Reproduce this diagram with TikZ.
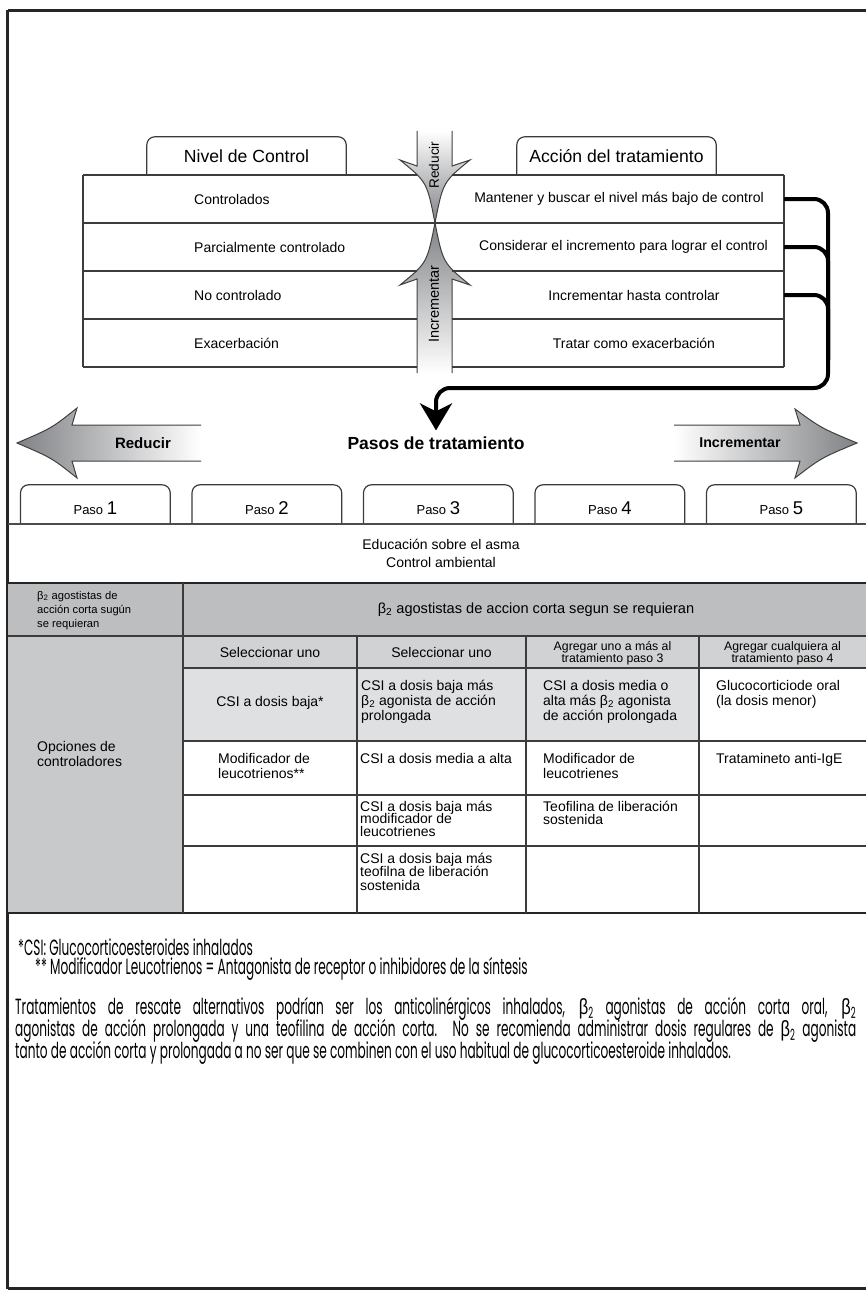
\documentclass[tikz,border=0pt]{standalone}
\usepackage{fontspec}
\setmainfont{Liberation Sans}
\newfontfamily\condfont[FakeStretch=0.55]{Poppins}
\newfontfamily\grkfont[FakeStretch=0.75]{Liberation Sans}
\usepackage{tikz}
\usetikzlibrary{arrows.meta}

\definecolor{linegray}{RGB}{60,60,60}
\definecolor{hdrgray}{RGB}{188,190,192}
\definecolor{optgray}{RGB}{200,201,203}
\definecolor{selgray}{RGB}{209,210,212}
\definecolor{csigray}{RGB}{223,224,225}
\definecolor{arrgray}{RGB}{128,130,133}

\newcommand\fsz[1]{\fontsize{#1}{#1}\selectfont}
\newcommand\bdos{β\textsubscript{2}}
\newcommand\bdosc{{\grkfont β}\textsubscript{2}}
% stacked lines with a fixed baseline distance, baseline = first line
\newcommand\cellrows[2][15pt]{\vtop{\baselineskip=#1\lineskiplimit=-100pt\relax
  \halign{##\hfil\cr#2\crcr}}}
\newcommand\cellrowsc[2][15pt]{\vtop{\baselineskip=#1\lineskiplimit=-100pt\relax
  \halign{\hfil##\hfil\cr#2\crcr}}}

\begin{document}
\begin{tikzpicture}[
    x=1pt,y=-1pt,
    font=\fsz{14},
    txt/.style={inner sep=0pt},
    tline/.style={draw=linegray,line width=1.2pt},
    tab/.style={draw=linegray,line width=1.2pt,rounded corners=8pt},
    arrline/.style={draw=black!75,line width=1pt},
    conn/.style={draw=black,line width=4pt,rounded corners=14pt},
    boldtxt/.style={inner sep=0pt,font=\bfseries\fsz{15}},
    note/.style={inner sep=0pt,anchor=base west,font=\condfont\fsz{22}}
]
\useasboundingbox (0,0) rectangle (866,1292);

% Outer frame (open on the right).
\draw[draw=black!85,line width=3pt] (866,10.5) -- (7.5,10.5);
\draw[draw=black!85,line width=3pt] (7.5,1288.5) -- (866,1288.5);
\draw[draw=black!85,line width=2.2pt] (7.5,10.5) -- (7.5,1288.5);

% Column heads of the control table.
\node[txt,font=\fsz{17.6},minimum width=199pt,minimum height=38pt] (nivel) at (246.5,156) {Nivel de Control};
\draw[tab] (nivel.south west) |- (nivel.north) -| (nivel.south east);
\node[txt,font=\fsz{17.6},minimum width=199pt,minimum height=38pt] (accion) at (616.5,156) {Acción del tratamiento};
\draw[tab] (accion.south west) |- (accion.north) -| (accion.south east);

% Reducir / Incrementar arrows between the two halves.
\shade[top color=white,bottom color=arrgray] (417,131) -- (417,166) -- (400,160)
    .. controls (427,182) .. (435,223) .. controls (443,182) .. (470,160)
    -- (452,166) -- (452,131) -- cycle;
\draw[arrline] (417,131) -- (417,166) -- (400,160)
    .. controls (427,182) .. (435,223) .. controls (443,182) .. (470,160)
    -- (452,166) -- (452,131);
\shade[top color=arrgray,bottom color=white] (417,373) -- (417,279) -- (400,285)
    .. controls (427,263) .. (435,223) .. controls (443,263) .. (470,285)
    -- (452,279) -- (452,373) -- cycle;
\draw[arrline] (417,373) -- (417,279) -- (400,285)
    .. controls (427,263) .. (435,223) .. controls (443,263) .. (470,285)
    -- (452,279) -- (452,373);
\node[txt,rotate=90,font=\fsz{13.6}] (redv) at (434,165) {Reducir};
\node[txt,rotate=90,font=\fsz{14.5}] (incv) at (434,304) {Incrementar};

% Table rules.
\foreach \y in {175,271,319,367}{
    \draw[tline] (83,\y) -- (417,\y) (452,\y) -- (784,\y);
}
\draw[tline] (83,223) -- (784,223);
\draw[tline] (83,175) -- (83,367) (784,175) -- (784,367);

% Levels of control and actions.
\node[txt,anchor=west] (l1) at (194,199) {Controlados};
\node[txt,anchor=west] (l2) at (194,247) {Parcialmente controlado};
\node[txt,anchor=west] (l3) at (194,295) {No controlado};
\node[txt,anchor=west] (l4) at (194,343) {Exacerbación};
\node[txt] (a1) at (619,199) {Mantener y buscar el nivel más bajo de control};
\node[txt] (a2) at (623.5,247) {Considerar el incremento para lograr el control};
\node[txt] (a3) at (634,295) {Incrementar hasta controlar};
\node[txt] (a4) at (634,343) {Tratar como exacerbación};

% Steps heading and side arrows.
\node[txt,font=\bfseries\fsz{17.5}] (pasos) at (436,443) {Pasos de tratamiento};
\shade[left color=arrgray,right color=white] (201,425) -- (72,425) -- (77,408)
    .. controls (52,428) .. (17,443) .. controls (52,458) .. (77,478)
    -- (72,461) -- (201,461) -- cycle;
\draw[arrline] (201,425) -- (72,425) -- (77,408)
    .. controls (52,428) .. (17,443) .. controls (52,458) .. (77,478)
    -- (72,461) -- (201,461);
\node[boldtxt] (redh) at (143,443) {Reducir};
\shade[left color=white,right color=arrgray] (674,425) -- (800,425) -- (795,409)
    .. controls (821,428) .. (857,443) .. controls (821,458) .. (795,478)
    -- (800,461) -- (674,461) -- cycle;
\draw[arrline] (674,425) -- (800,425) -- (795,409)
    .. controls (821,428) .. (857,443) .. controls (821,458) .. (795,478)
    -- (800,461) -- (674,461);
\node[boldtxt,font=\bfseries\fsz{14.2}] (inch) at (740,443) {Incrementar};

% Connectors from the actions down to the steps.
\coordinate (redge) at (784,0);
\coordinate (turn) at (828,388);
\coordinate (merge) at (828,360);
\draw[conn,-{Stealth[length=27pt,width=32pt,inset=8pt]}]
    (a1 -| redge) -| (turn) -| ([yshift=6pt]pasos.north);
\draw[conn] (a2 -| redge) -| (merge);
\draw[conn] (a3 -| redge) -| (merge);

% Step tabs.
\foreach \i in {1,...,5}{
    \pgfmathsetmacro\cx{95.35+171.5*(\i-1)}
    \node[txt,minimum width=149.3pt,minimum height=39pt] (paso\i) at (\cx,504.5) {};
    \draw[tab] (paso\i.south west) |- (paso\i.north) -| (paso\i.south east);
    \node[txt,anchor=base] (pasot\i) at (\cx,514) {\fsz{13}Paso \fsz{18.5}\i};
}
\draw[draw=black!70,line width=1.2pt] (7.5,524) -- (866,524);
\node[txt,anchor=base] (edu) at (441,549)
    {\cellrowsc[18pt]{Educación sobre el asma\cr Control ambiental}};

% Treatment table fills.
\fill[hdrgray] (7.5,583) rectangle (866,636);
\fill[optgray] (7.5,636) rectangle (183,913);
\fill[selgray] (183,636) rectangle (866,668);
\fill[csigray] (183,668) rectangle (699,741);

% Treatment table rules.
\draw[draw=black!85,line width=2.2pt] (7.5,583) -- (866,583);
\draw[tline] (7.5,636) -- (866,636);
\foreach \y in {668,741,795,846}{
    \draw[tline] (183,\y) -- (866,\y);
}
\draw[draw=black!85,line width=2pt] (7.5,913) -- (866,913);
\draw[tline] (183,583) -- (183,913);
\foreach \x in {357,526,699}{
    \draw[tline] (\x,636) -- (\x,913);
}

% Header row.
\node[txt,anchor=base west,font=\fsz{11.2}] (hdrl) at (37,599)
    {\cellrows[14pt]{\bdos{} agostistas de\cr acción corta sugún\cr se requieran}};
\node[txt,font=\fsz{14.6}] (hdrr) at (536,610) {\bdos{} agostistas de accion corta segun se requieran};
\node[txt,anchor=base west] (opc) at (37,751) {\cellrows{Opciones de\cr controladores}};

% Selection row.
\node[txt] (sel2) at (270,652) {Seleccionar uno};
\node[txt] (sel3) at (441.5,652) {Seleccionar uno};
\node[txt,anchor=base,font=\fsz{12.3}] (sel4) at (612.5,650)
    {\cellrowsc[12.8pt]{Agregar uno a más al\cr tratamiento paso 3}};
\node[txt,anchor=base,font=\fsz{12.3}] (sel5) at (782.5,650)
    {\cellrowsc[12.8pt]{Agregar cualquiera al\cr tratamiento paso 4}};

% Controller options.
\node[txt] (c2) at (270,703) {CSI a dosis baja*};
\node[txt,anchor=base west] (c3) at (361,690)
    {\cellrows{CSI a dosis baja más\cr \bdos{} agonista de acción\cr prolongada}};
\node[txt,anchor=base west] (c4) at (543,690)
    {\cellrows{CSI a dosis media o\cr alta más \bdos{} agonista\cr de acción prolongada}};
\node[txt,anchor=base west] (c5) at (716,690)
    {\cellrows{Glucocorticiode oral\cr (la dosis menor)}};
\node[txt,anchor=base west] (m2) at (218,763) {\cellrows{Modificador de\cr leucotrienos**}};
\node[txt,anchor=base west] (m3) at (360,763) {CSI a dosis media a alta};
\node[txt,anchor=base west] (m4) at (543,763) {\cellrows{Modificador de\cr leucotrienes}};
\node[txt,anchor=base west] (m5) at (716,763) {Tratamineto anti-IgE};
\node[txt,anchor=base west] (t3) at (360,811)
    {\cellrows[12.6pt]{CSI a dosis baja más\cr modificador de\cr leucotrienes}};
\node[txt,anchor=base west] (t4) at (543,811)
    {\cellrows[13.5pt]{Teofilina de liberación\cr sostenida}};
\node[txt,anchor=base west] (s3) at (360,863)
    {\cellrows[13.5pt]{CSI a dosis baja más\cr teofilna de liberación\cr sostenida}};

% Notes below the table.
\node[note] (fn1) at (18,955) {*CSI: Glucocorticoesteroides inhalados};
\node[note] (fn2) at (35,974)
    {** Modificador Leucotrienos = Antagonista de receptor o inhibidores de la síntesis};
\node[note] (para) at (15,1014)
    {\vtop{\hsize=841pt\baselineskip=22pt\lineskiplimit=-100pt\parindent=0pt
    \hyphenpenalty=10000\relax
    Tratamientos de rescate alternativos podrían ser los anticolinérgicos inhalados,
    \bdosc{} agonistas de acción corta oral, \bdosc\linebreak
    agonistas de acción prolongada y una teofilina de acción corta. No se recomienda
    administrar dosis regulares de \bdosc{} agonista\linebreak
    tanto de acción corta y prolongada a no ser que se combinen con el uso habitual
    de glucocorticoesteroide inhalados.}};
\end{tikzpicture}
\end{document}
